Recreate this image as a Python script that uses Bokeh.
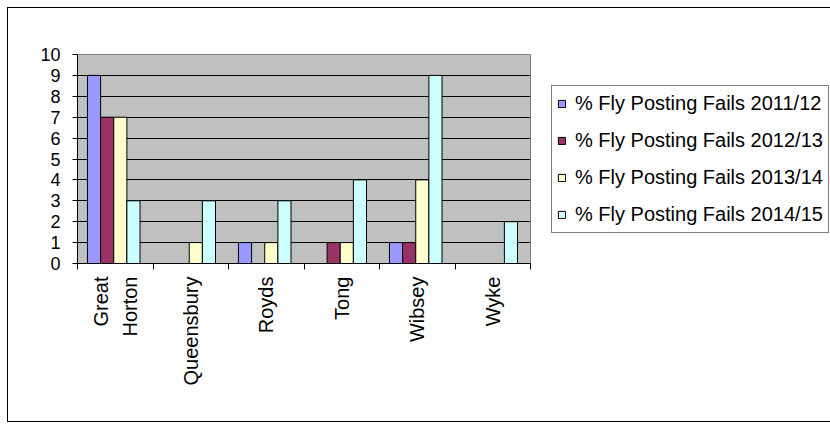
import math
import numpy as np
from bokeh.plotting import figure
from bokeh.models import ColumnDataSource, FixedTicker, Legend, LegendItem, Range1d
from bokeh.embed import file_html
from bokeh.resources import INLINE

# ---- data ----
categories = ["Great Horton", "Queensbury", "Royds", "Tong", "Wibsey", "Wyke"]
tick_labels = ["Great\nHorton", "Queensbury", "Royds", "Tong", "Wibsey", "Wyke"]
fails_2011_12 = [9, 0, 1, 0, 1, 0]
fails_2012_13 = [7, 0, 0, 1, 1, 0]
fails_2013_14 = [7, 1, 1, 1, 4, 0]
fails_2014_15 = [3, 3, 3, 4, 9, 2]
series_names = [
    "% Fly Posting Fails 2011/12",
    "% Fly Posting Fails 2012/13",
    "% Fly Posting Fails 2013/14",
    "% Fly Posting Fails 2014/15",
]
series_values = [fails_2011_12, fails_2012_13, fails_2013_14, fails_2014_15]
series_colors = ["#9999FF", "#993366", "#FFFFCC", "#CCFFFF"]
y_ticks = list(range(0, 11))

FONT = "Liberation Sans"

p = figure(
    frame_width=453, frame_height=209,
    x_range=Range1d(0, len(categories)), y_range=Range1d(0, 10),
    output_backend="svg", toolbar_location=None,
    min_border_left=69, min_border_top=46, min_border_right=299, min_border_bottom=158,
)
p.styles = {"border": "1px solid black", "margin-left": "7px", "margin-top": "7px"}
p.background_fill_color = "#C0C0C0"
p.border_fill_color = "white"
p.outline_line_color = "#808080"
p.outline_line_width = 1

bar_w = 0.174
n = len(series_values)
centers = np.arange(len(categories)) + 0.5
items = []
for k, (name, vals, col) in enumerate(zip(series_names, series_values, series_colors)):
    src = ColumnDataSource(dict(x=centers + (k - (n - 1) / 2) * bar_w - 0.02, top=vals))
    r = p.vbar(x="x", top="top", bottom=0, width=bar_w, source=src,
               fill_color=col, line_color="black", line_width=1)
    items.append(LegendItem(label=name, renderers=[r]))

# grid
p.xgrid.visible = False
p.ygrid.ticker = FixedTicker(ticks=y_ticks[1:-1])
p.ygrid.grid_line_color = "black"
p.ygrid.grid_line_width = 1

# y axis
ya = p.yaxis[0]
ya.ticker = FixedTicker(ticks=y_ticks)
ya.axis_line_color = "black"
ya.major_tick_line_color = "black"
ya.major_tick_out = 5
ya.major_tick_in = 0
ya.minor_tick_line_color = None
ya.major_label_standoff = 12
ya.major_label_text_font = FONT
ya.major_label_text_font_size = "18px"
ya.major_label_text_color = "black"

# x axis
xa = p.xaxis[0]
xa.ticker = FixedTicker(ticks=list(centers), minor_ticks=list(range(len(categories) + 1)))
xa.major_label_overrides = {float(c): lab for c, lab in zip(centers, tick_labels)}
xa.major_label_orientation = math.pi / 2
xa.major_tick_out = 0
xa.major_tick_in = 0
xa.minor_tick_out = 6
xa.minor_tick_in = 0
xa.minor_tick_line_color = "black"
xa.axis_line_color = "black"
xa.major_label_standoff = 7
xa.major_label_text_font = FONT
xa.major_label_text_font_size = "20px"
xa.major_label_text_color = "black"
xa.major_label_text_line_height = 1.3

legend = Legend(items=items, location="center_left", orientation="vertical")
legend.margin = 21
legend.padding = 5
legend.spacing = 12
legend.label_height = 25
legend.glyph_width = 9
legend.glyph_height = 9
legend.label_standoff = 9
legend.label_text_font = FONT
legend.label_text_font_size = "20px"
legend.label_text_color = "black"
legend.border_line_color = "black"
legend.border_line_width = 1
legend.background_fill_color = "white"
legend.background_fill_alpha = 1
p.add_layout(legend, "right")

open("out.html", "w").write(file_html(p, INLINE, "chart"))
